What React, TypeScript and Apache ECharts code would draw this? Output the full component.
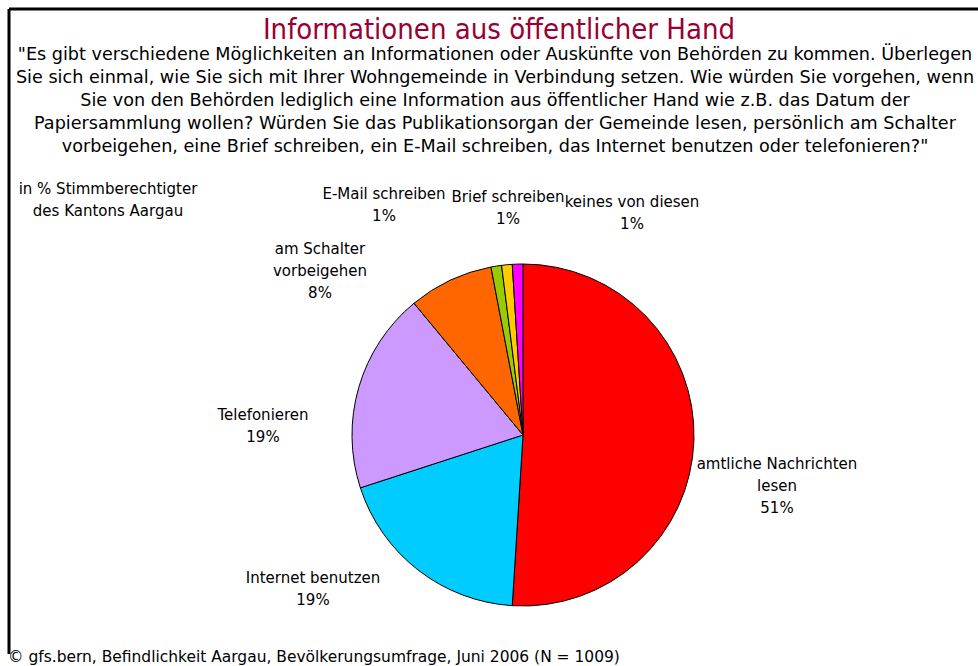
import React, { useEffect, useRef } from "react";
import * as echarts from "echarts";

const categories = [
  "amtliche Nachrichten\nlesen",
  "Internet benutzen",
  "Telefonieren",
  "am Schalter\nvorbeigehen",
  "E-Mail schreiben",
  "Brief schreiben",
  "keines von diesen",
];
const values = [51, 19, 19, 8, 1, 1, 1];
const colors = ["#FF0000", "#00CCFF", "#CC99FF", "#FF6600", "#99CC00", "#FFCC00", "#FF00FF"];
const labelPos: [number, number][] = [
  [777, 486],
  [313, 589],
  [263, 426],
  [320, 271],
  [384, 205],
  [508, 208],
  [632, 213],
];

const titleText = "Informationen aus öffentlicher Hand";
const subtitleLines = [
  "\"Es gibt verschiedene Möglichkeiten an Informationen oder Auskünfte von Behörden zu kommen. Überlegen",
  "Sie sich einmal, wie Sie sich mit Ihrer Wohngemeinde in Verbindung setzen. Wie würden Sie vorgehen, wenn",
  "Sie von den Behörden lediglich eine Information aus öffentlicher Hand wie z.B. das Datum der",
  "Papiersammlung wollen? Würden Sie das Publikationsorgan der Gemeinde lesen, persönlich am Schalter",
  "vorbeigehen, eine Brief schreiben, ein E-Mail schreiben, das Internet benutzen oder telefonieren?\"",
];
const unitNote = "in % Stimmberechtigter\ndes Kantons Aargau";
const footer = "© gfs.bern, Befindlichkeit Aargau, Bevölkerungsumfrage, Juni 2006 (N = 1009)";

const narrow = "'Liberation Sans Narrow', 'DejaVu Sans Condensed', 'Arial Narrow', sans-serif";
const labelFont = "'DejaVu Sans', Verdana, sans-serif";

export default function App() {
  const ref = useRef<HTMLDivElement>(null);
  useEffect(() => {
    if (!ref.current) return;
    const chart = echarts.init(ref.current, null, { renderer: "svg" });
    chart.setOption({
      animation: false,
      backgroundColor: "#ffffff",
      graphic: [
        { type: "line", shape: { x1: 9, y1: 9, x2: 990, y2: 9 }, style: { stroke: "#000", lineWidth: 3 } },
        { type: "line", shape: { x1: 9, y1: 9, x2: 9, y2: 654 }, style: { stroke: "#000", lineWidth: 3 } },
        {
          type: "text",
          x: 499,
          y: 29,
          style: {
            text: titleText,
            fill: "#990033",
            font: `29px ${narrow}`,
            textAlign: "center",
            textVerticalAlign: "middle",
          },
        },
        {
          type: "text",
          x: 495,
          y: 100,
          scaleX: 1.088,
          style: {
            text: subtitleLines.join("\n"),
            fill: "#000",
            font: `18px ${narrow}`,
            lineHeight: 23,
            textAlign: "center",
            textVerticalAlign: "middle",
          },
        },
        {
          type: "text",
          x: 108,
          y: 200,
          style: {
            text: unitNote,
            fill: "#000",
            font: `15px ${labelFont}`,
            lineHeight: 22,
            textAlign: "center",
            textVerticalAlign: "middle",
          },
        },
        {
          type: "text",
          x: 8,
          y: 657,
          scaleX: 1.075,
          style: {
            text: footer,
            fill: "#000",
            font: `16px ${narrow}`,
            textAlign: "left",
            textVerticalAlign: "middle",
          },
        },
      ],
      series: [
        {
          type: "pie",
          center: [523, 435],
          radius: 171,
          startAngle: 90,
          clockwise: true,
          data: categories.map((name, i) => ({
            name,
            value: values[i],
            itemStyle: { color: colors[i] },
          })),
          itemStyle: { borderColor: "#000", borderWidth: 1 },
          emphasis: { disabled: true },
          label: {
            show: true,
            position: "outside",
            formatter: "{b}\n{c}%",
            color: "#000",
            fontFamily: labelFont,
            fontSize: 15,
            lineHeight: 22,
            align: "center",
          },
          labelLine: { show: false },
          labelLayout: (params: any) => {
            const p = labelPos[params.dataIndex];
            return { x: p[0], y: p[1], align: "center", verticalAlign: "middle", hideOverlap: false };
          },
        },
      ],
    });
    return () => chart.dispose();
  }, []);
  return (
    <div
      ref={ref}
      style={{ position: "fixed", left: 0, top: 0, width: 978, height: 666, background: "#fff" }}
    />
  );
}
